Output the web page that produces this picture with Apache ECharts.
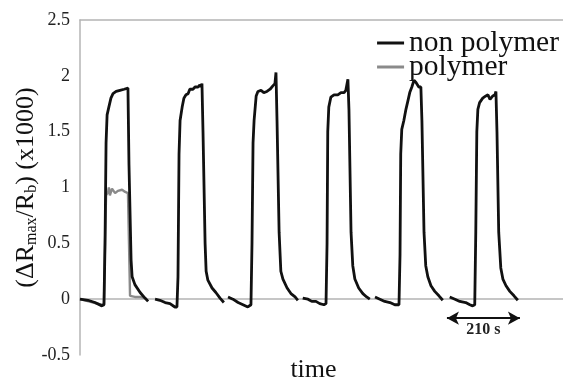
<!DOCTYPE html>
<html>
<head>
<meta charset="utf-8">
<script src="https://cdn.jsdelivr.net/npm/echarts@6/dist/echarts.min.js"></script>
<style>
  html, body { margin: 0; padding: 0; background: #fff; }
  #chart { width: 563px; height: 381px; }
</style>
</head>
<body>
<div id="chart"></div>
<script>
// time in seconds, response (x1000)
const pulse1 = [[0, 0.00], [23, -0.01], [43, -0.03], [63, -0.06], [69, -0.05], [72, 0.5], [75, 1.4], [78, 1.65], [83, 1.72],
    [89, 1.8], [95, 1.84], [104, 1.86], [115, 1.87], [127, 1.88], [138, 1.89], [141, 1.2], [147, 0.35], [150, 0.2],
    [158, 0.13], [173, 0.06], [187, 0.01], [196, -0.02]];
const pulse2 = [[216, 0.00], [230, -0.01], [245, -0.03], [259, -0.04], [273, -0.07], [279, -0.07], [282, 0.2], [285, 1.3],
    [288, 1.6], [294, 1.72], [299, 1.8], [305, 1.83], [311, 1.84], [316, 1.88], [325, 1.88], [331, 1.9], [340, 1.9],
    [345, 1.92], [348, 1.9], [351, 1.93], [354, 1.5], [360, 0.5], [363, 0.25], [368, 0.17], [380, 0.1], [391, 0.06],
    [403, 0.01], [414, -0.03]];
const pulse3 = [[426, 0.02], [440, 0.0], [455, -0.03], [469, -0.05], [483, -0.07], [492, -0.05], [495, 0.5], [498, 1.4],
    [501, 1.6], [507, 1.82], [512, 1.86], [521, 1.87], [529, 1.85], [538, 1.86], [547, 1.88], [555, 1.91], [561, 1.93],
    [564, 2.03], [567, 1.6], [573, 0.6], [578, 0.25], [584, 0.18], [596, 0.1], [607, 0.05], [619, 0.02], [627, -0.01]];
const pulse4 = [[641, 0.01], [656, 0.0], [667, -0.02], [679, -0.02], [690, -0.04], [702, -0.05], [708, -0.04], [711, 0.5],
    [713, 1.5], [716, 1.72], [722, 1.81], [731, 1.83], [742, 1.83], [751, 1.85], [760, 1.85], [765, 1.87], [771, 1.97],
    [774, 1.7], [780, 0.6], [785, 0.3], [791, 0.18], [802, 0.1], [814, 0.05], [825, 0.02], [834, 0.0]];
const pulse5 = [[849, 0.02], [863, 0.0], [877, -0.02], [892, -0.03], [906, -0.05], [918, -0.05], [921, 0.4], [923, 1.3],
    [926, 1.52], [932, 1.6], [938, 1.7], [944, 1.78], [949, 1.85], [955, 1.9], [961, 1.96], [967, 1.94], [975, 1.9],
    [981, 1.9], [984, 1.6], [990, 0.6], [995, 0.3], [1001, 0.2], [1010, 0.12], [1021, 0.07], [1033, 0.03], [1044, -0.01]];
const pulse6 = [[1064, 0.02], [1079, 0.0], [1093, -0.02], [1110, -0.03], [1122, -0.05], [1130, -0.06], [1136, -0.05],
    [1139, 0.6], [1142, 1.5], [1145, 1.7], [1150, 1.76], [1159, 1.8], [1168, 1.82], [1174, 1.83], [1180, 1.79],
    [1188, 1.82], [1194, 1.83], [1197, 1.86], [1200, 1.5], [1205, 0.6], [1211, 0.28], [1217, 0.18], [1226, 0.12],
    [1237, 0.07], [1249, 0.03], [1260, -0.01]];
const polymerPulse = [[0, 0.0], [63, -0.05], [69, -0.04], [72, 0.5], [75, 0.93], [81, 0.96], [83, 1.0], [86, 0.93],
    [92, 0.99], [95, 1.0], [101, 0.95], [109, 0.97], [121, 0.98], [130, 0.96], [138, 0.95], [141, 0.5], [144, 0.03],
    [158, 0.02], [173, 0.02], [187, 0.01]];
const scaleBar = { from: 1056, to: 1266, y: -0.17, label: '210 s' };
const yTicks = { min: -0.5, max: 2.5, step: 0.5 };
const timeRange = [0, 1390];

const serif = '"Liberation Serif", "DejaVu Serif", serif';

// join the pulses, breaking the line between them
const nonPolymerData = [];
[pulse1, pulse2, pulse3, pulse4, pulse5, pulse6].forEach((p, i) => {
    if (i > 0) nonPolymerData.push([null, null]);
    p.forEach(pt => nonPolymerData.push(pt));
});

const chart = echarts.init(document.getElementById('chart'));
chart.setOption({
    animation: false,
    backgroundColor: '#fff',
    grid: { left: 80, right: 0, top: 20, bottom: 26, outerBoundsMode: 'none' },
    legend: {
        data: ['non polymer', 'polymer'],
        orient: 'vertical',
        right: 4,
        top: 28,
        padding: 0,
        itemGap: -6,
        itemWidth: 27,
        itemHeight: 3,
        icon: 'rect',
        textStyle: { fontFamily: serif, fontSize: 29.5, color: '#111', lineHeight: 24 }
    },
    xAxis: [{
        type: 'value',
        min: timeRange[0],
        max: timeRange[1],
        name: 'time',
        nameLocation: 'middle',
        nameGap: 3,
        nameTextStyle: { fontFamily: serif, fontSize: 26, color: '#111', lineHeight: 24, padding: [0, 16, 0, 0] },
        axisLine: { lineStyle: { color: '#b4b4b4', width: 1.5 } },
        axisTick: { show: false },
        axisLabel: { show: false },
        splitLine: { show: false }
    }, {
        type: 'value',
        position: 'top',
        min: timeRange[0],
        max: timeRange[1],
        axisLine: { show: true, lineStyle: { color: '#b4b4b4', width: 1.5 } },
        axisTick: { show: false },
        axisLabel: { show: false },
        splitLine: { show: false }
    }],
    yAxis: {
        type: 'value',
        min: yTicks.min,
        max: yTicks.max,
        interval: yTicks.step,
        name: '(ΔR{sub|max}/R{sub|b}) (x1000)',
        nameLocation: 'middle',
        nameRotate: 90,
        nameGap: 40,
        nameMoveOverlap: false,
        nameTextStyle: {
            fontFamily: serif, fontSize: 26, color: '#111',
            rich: {
                sub: { fontFamily: serif, fontSize: 16, color: '#111', padding: [12, 0, 0, 0] }
            }
        },
        axisLine: { show: true, lineStyle: { color: '#b4b4b4', width: 1.5 } },
        axisTick: { show: false },
        axisLabel: { fontFamily: serif, fontSize: 18, color: '#222', margin: 10 },
        splitLine: { show: false }
    },
    series: [{
        name: 'non polymer',
        type: 'line',
        data: nonPolymerData,
        showSymbol: false,
        connectNulls: false,
        z: 3,
        itemStyle: { color: '#111' },
        lineStyle: { color: '#111', width: 2.8 },
        markLine: {
            silent: true,
            symbol: ['arrow', 'arrow'],
            symbolSize: [10, 12],
            lineStyle: { color: '#111', width: 2, type: 'solid' },
            label: {
                show: true,
                formatter: scaleBar.label,
                position: 'insideMiddleBottom',
                distance: 4,
                fontFamily: serif, fontSize: 16, fontWeight: 'bold', color: '#222'
            },
            data: [[{ coord: [scaleBar.from, scaleBar.y] }, { coord: [scaleBar.to, scaleBar.y] }]]
        }
    }, {
        name: 'polymer',
        type: 'line',
        data: polymerPulse,
        showSymbol: false,
        z: 2,
        itemStyle: { color: '#8a8a8a' },
        lineStyle: { color: '#8a8a8a', width: 2.4 }
    }]
});
</script>
</body>
</html>
